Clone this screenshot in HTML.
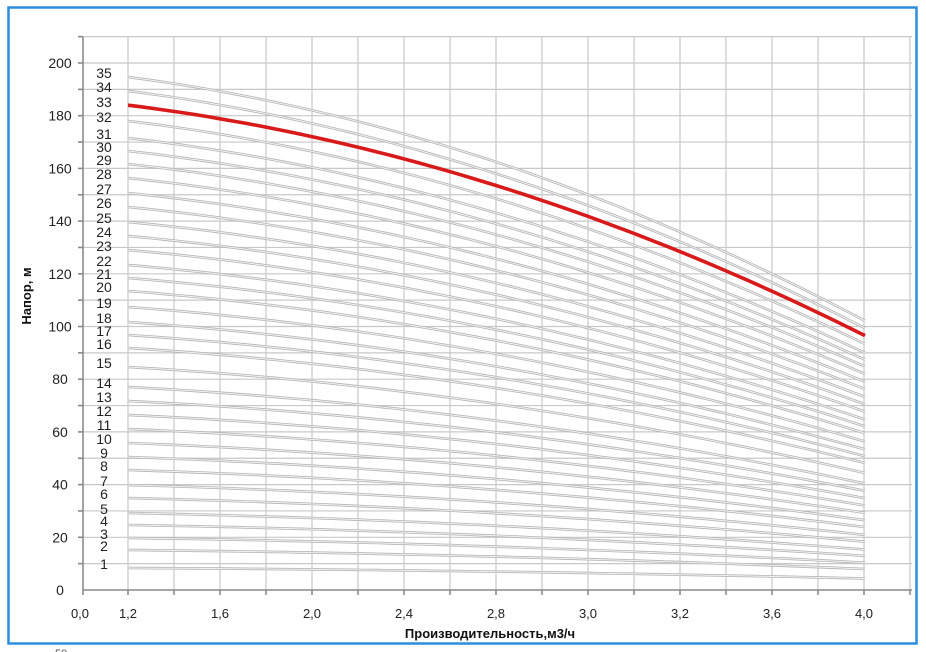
<!DOCTYPE html>
<html><head><meta charset="utf-8"><style>
html,body{margin:0;padding:0;background:#fff;}
svg{display:block;}
text{font-family:"Liberation Sans",sans-serif;}
</style></head><body>
<svg width="926" height="652" xmlns="http://www.w3.org/2000/svg">
<rect x="0" y="0" width="926" height="652" fill="#fff"/>
<rect x="8.5" y="7.5" width="908" height="636" fill="none" stroke="#2b8ee0" stroke-width="2.5"/>
<g id="grid" stroke="#c8c8c8" stroke-width="1.2"></g>
<g id="curves" fill="none"></g>
<g id="axes" stroke="#8a8a8a" stroke-width="1.6"></g>
<g id="labels" font-size="13" fill="#222" text-anchor="middle"></g>
<text x="490" y="638" font-size="13" font-weight="bold" text-anchor="middle" fill="#111">Производительность,м3/ч</text>
<text transform="translate(31,296) rotate(-90)" font-size="13" font-weight="bold" text-anchor="middle" fill="#111">Напор, м</text>
<text x="55" y="657" font-size="11" fill="#555">50</text>
</svg>
<script>
const NS="http://www.w3.org/2000/svg";
function el(p,t,a,txt){const e=document.createElementNS(NS,t);for(const k in a)e.setAttribute(k,a[k]);if(txt!==undefined)e.textContent=txt;document.getElementById(p).appendChild(e);return e;}
const X0=83,Y0=590,K=2.635,XR=912,YT=37;
const y=h=>Y0-h*K;
for(let h=10;h<=210;h+=10){el("grid","line",{x1:X0,x2:XR,y1:y(h),y2:y(h)});el("axes","line",{x1:X0-5,x2:X0,y1:y(h),y2:y(h)});}
for(let h=0;h<=200;h+=20){el("labels","text",{x:60,y:y(h)+5,"font-size":14},String(h));}
for(let i=0;i<=17;i++){const x=128+46*i;el("grid","line",{x1:x,x2:x,y1:YT,y2:Y0});el("axes","line",{x1:x,x2:x,y1:Y0,y2:Y0+5});}
el("axes","line",{x1:X0,x2:X0,y1:YT,y2:Y0+5});
el("axes","line",{x1:X0,x2:XR,y1:Y0,y2:Y0});
const xl=[[80,"0,0"],[128,"1,2"],[220,"1,6"],[312,"2,0"],[404,"2,4"],[496,"2,8"],[588,"3,0"],[680,"3,2"],[772,"3,6"],[864,"4,0"]];
xl.forEach(([x,t])=>el("labels","text",{x:x,y:618},t));
function f(t){return 1-0.0673*t-0.0366*t*t;}
function path(h0){let d="";for(let i=0;i<=56;i++){const t=2.8*i/56;const x=128+737*t/2.8;d+=(i?"L":"M")+x.toFixed(1)+","+y(h0*f(t)).toFixed(1);}return d;}
const ly={1:564,2:546,3:534,4:521,5:509,6:494,7:481,8:466,9:453,10:439,11:425,12:411,13:397,14:383,15:363,16:344,17:331,18:318,19:303,20:287,21:274,22:261,23:246,24:232,25:218,26:203,27:189,28:174,29:160,30:147,31:134,32:117,33:102,34:87,35:73};
for(let n=1;n<=35;n++){
  const h0=(Y0-(ly[n]+4))/K;
  if(n!==33){
    el("curves","path",{d:path(h0),stroke:"#b4b4b4","stroke-width":2.6});
    el("curves","path",{d:path(h0),stroke:"#f2f2f2","stroke-width":1});
  }
  el("labels","text",{x:104,y:ly[n]+5,"font-size":14},String(n));
}
el("curves","path",{d:path(184),stroke:"#d91a1a","stroke-width":3.6});
</script>
</body></html>
